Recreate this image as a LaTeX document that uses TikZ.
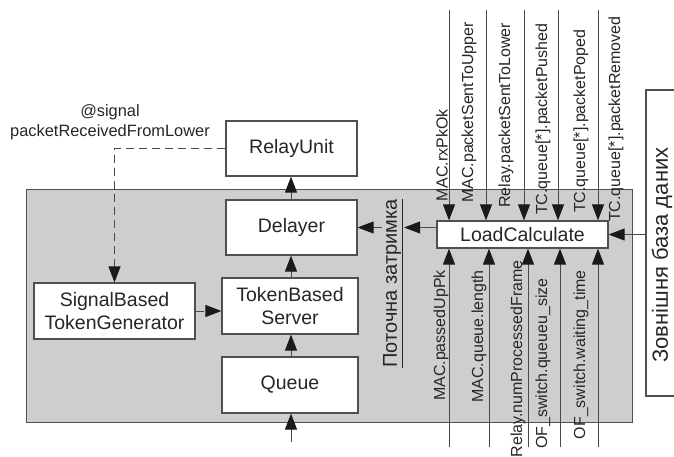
\documentclass[tikz,border=0pt]{standalone}
\usepackage{fontspec}
\setmainfont{Liberation Sans}
\usetikzlibrary{arrows.meta}
\definecolor{boxc}{HTML}{505050}
\definecolor{linec}{HTML}{4A4A4A}
\definecolor{tipc}{HTML}{1A1A1A}
\definecolor{txt}{HTML}{262626}
\definecolor{panel}{HTML}{CECECE}
\begin{document}
\begin{tikzpicture}[x=1pt,y=-1pt,
  box/.style={draw=boxc, line width=1.2pt, fill=white, inner sep=0pt,
    font=\fontsize{19.5}{23.5}\selectfont, text=txt, align=center},
  conn/.style={draw=linec, line width=1pt, -{Triangle[length=16pt,width=12pt,color=tipc]}},
  dconn/.style={conn, dash pattern=on 8pt off 5pt},
  vlab/.style={rotate=90, font=\fontsize{16}{18}\selectfont, text=txt, inner sep=0pt},
]
\useasboundingbox (0,0) rectangle (674,457);
\begin{scope}
\clip (0,0) rectangle (674,457);
% grey panel
\fill[panel, draw=boxc, line width=0.8pt] (26,189) rectangle (632,422);

% boxes
\node[box, minimum width=131pt, minimum height=55pt] (R) at (291.5,148.5) {RelayUnit};
\node[box, minimum width=131pt, minimum height=55pt] (D) at (291.5,227.5) {Delayer};
\node[box, minimum width=136pt, minimum height=56pt] (T) at (290,306) {TokenBased\\Server};
\node[box, minimum width=136pt, minimum height=56pt] (Q) at (290,385) {Queue};
\node[box, minimum width=161pt, minimum height=56pt] (S) at (114.5,311) {SignalBased\\TokenGenerator};
\node[box, minimum width=171pt, minimum height=27pt] (LC) at (522.5,234.5) {LoadCalculate};

% external database
\node[draw=boxc, line width=1.2pt, fill=white, minimum width=40pt, minimum height=306pt,
  inner sep=0pt] (DB) at (666,243) {};
\node[rotate=90, inner sep=0pt, font=\fontsize{22}{24}\selectfont, text=txt] (dbt) at (662,255) {Зовнішня база даних};

% signal label
\node[font=\fontsize{16.4}{20}\selectfont, text=txt, align=center] (sig) at (110,122) {@signal\\packetReceivedFromLower};

% delay label
\node[rotate=90, font=\fontsize{20}{22}\selectfont, text=txt, inner sep=1pt] (lbl) at (393,283.5) {\underline{Поточна затримка}};

% main chain
\coordinate (qin) at (291,442);
\draw[conn] (qin) -- (qin |- Q.south);
\draw[conn] (Q.north -| qin) -- (qin |- T.south);
\draw[conn] (T.north -| qin) -- (qin |- D.south);
\draw[conn] (D.north -| qin) -- (qin |- R.south);

% dashed signal path
\coordinate (corner) at (S.north |- R.west);
\draw[dconn] (R.west) -- (corner) -- (S.north);
\draw[dconn] (S.east) -- (S.east -| T.west);

% LoadCalculate -> Delayer
\draw[conn] (LC.west |- D.east) -- (lbl.south |- D.east);
\draw[conn] (lbl.north |- D.east) -- (D.east);

% DB -> LoadCalculate
\draw[conn] (DB.west |- LC.east) -- (LC.east);

% top inputs
\foreach \n/\x in {a/449,b/486,c/524,d/558,e/598}{
  \coordinate (t\n) at (\x,10);
  \draw[conn] (t\n) -- (t\n |- LC.north);
}
\node[vlab, anchor=west] (l1) at (442,202) {MAC.rxPkOk};
\node[vlab, anchor=west] (l2) at (469,203) {MAC.packetSentToUpper};
\node[vlab, anchor=west] (l3) at (506,208) {Relay.packetSentToLower};
\node[vlab, anchor=west] (l4) at (543,215) {TC.queue[*].packetPushed};
\node[vlab, anchor=west] (l5) at (581,213) {TC.queue[*].packetPoped};
\node[vlab, anchor=west] (l6) at (616,222) {TC.queue[*].packetRemoved};

% bottom inputs
\foreach \n/\x in {a/449,b/489,c/528,d/560,e/598}{
  \coordinate (b\n) at (\x,447);
  \draw[conn] (b\n) -- (b\n |- LC.south);
}
\node[vlab, anchor=east] (m1) at (441,270) {MAC.passedUpPk};
\node[vlab, anchor=east] (m2) at (479,270) {MAC.queue.length};
\node[vlab, anchor=east] (m3) at (518,260) {Relay.numProcessedFrame};
\node[vlab, anchor=east] (m4) at (543,278) {OF\_switch.queueu\_size};
\node[vlab, anchor=east] (m5) at (581,270) {OF\_switch.waiting\_time};
\end{scope}
\end{tikzpicture}
\end{document}
